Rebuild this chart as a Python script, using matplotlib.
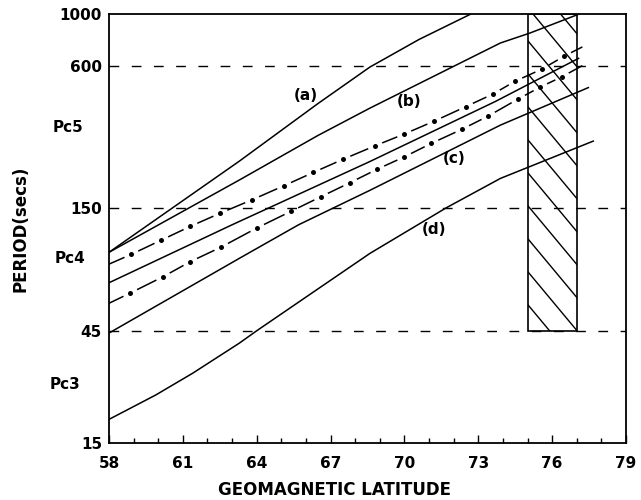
"""
Pc3-Pc5 pulsation period against geomagnetic latitude
"""

import numpy as np
import matplotlib
matplotlib.use('Agg')
import matplotlib.pyplot as plt
from matplotlib.patches import Rectangle
from matplotlib.ticker import MultipleLocator, NullLocator
import matplotlib.transforms as mtransforms

# curve (a)
lat_a = [58, 63.3, 66.5, 68.6, 70.6, 72.7]
per_a = [97, 237, 417, 595, 780, 1000]

# curve (b)
lat_b = [58, 63.3, 66.5, 68.6, 73.9, 75.1, 77.1]
per_b = [97, 197, 305, 398, 753, 830, 1000]

# solid curve between the two dash-dot curves
lat_mid = [58, 63.0, 68.6, 73.7, 77.1]
per_mid = [72, 127, 236, 425, 650]

# curve (c)
lat_c = [58, 63.3, 65.7, 68.6, 73.9, 77.5]
per_c = [44, 91.5, 127, 178, 337, 488]

# curve (d)
lat_d = [58, 59.9, 61.4, 63.3, 64.0, 68.6, 71.7, 73.9, 77.7]
per_d = [18.9, 24, 29.7, 39.9, 45, 96, 150, 200, 289]

# upper dash-dot curve: line ends and dot positions
lat_up_ends = [58, 77.2]
per_up_ends = [86.4, 722]
lat_up_dots = [58.9, 60.1, 61.3, 62.5, 63.8, 65.1, 66.3, 67.5,
               68.8, 70.0, 71.2, 72.5, 73.6, 74.5, 75.6, 76.5]
per_up_dots = [95, 109, 125, 142, 162, 186, 212, 241,
               275, 309, 350, 404, 457, 518, 584, 663]

# lower dash-dot curve: line ends and dot positions
lat_lo_ends = [58, 77.2]
per_lo_ends = [58.9, 601]
lat_lo_dots = [58.85, 60.2, 61.3, 62.55, 64.0, 65.4, 66.6, 67.8,
               68.9, 70.0, 71.1, 72.35, 73.4, 74.6, 75.5, 76.4]
per_lo_dots = [65.0, 76.4, 88.5, 102, 123, 145, 167, 192,
               219, 247, 282, 324, 368, 434, 488, 541]

# band limits and shaded (hatched) latitude range
band_periods = [600, 150, 45]
hatch_lat = (75, 77)
hatch_per = (45, 1000)

y_ticks = [15, 45, 150, 600, 1000]
x_ticks = [58, 61, 64, 67, 70, 73, 76, 79]

curve_labels = ['(a)', '(b)', '(c)', '(d)']
label_lat = [66.0, 70.2, 72.0, 71.2]
label_per = [452, 424, 242, 121]

band_names = ['Pc5', 'Pc4', 'Pc3']
band_name_per = [328, 91, 26.7]

plt.rcParams['font.family'] = 'DejaVu Sans'
plt.rcParams['font.weight'] = 'bold'

fig = plt.figure(figsize=(6.41, 5.0), dpi=100)
ax = fig.add_axes([0.170, 0.114, 0.8066, 0.858])

ax.set_yscale('log')
ax.set_xlim(58, 79)
ax.set_ylim(15, 1000)

# solid curves
for lat, per in [(lat_a, per_a), (lat_b, per_b), (lat_mid, per_mid),
                 (lat_c, per_c), (lat_d, per_d)]:
    ax.plot(lat, per, color='black', lw=1.1, zorder=3, solid_capstyle='butt')

# dash-dot curves: a solid line, blanked round each dot
for ends_x, ends_y, dots_x, dots_y in [
        (lat_up_ends, per_up_ends, lat_up_dots, per_up_dots),
        (lat_lo_ends, per_lo_ends, lat_lo_dots, per_lo_dots)]:
    xs = [ends_x[0]] + dots_x + [ends_x[1]]
    ys = [ends_y[0]] + dots_y + [ends_y[1]]
    ax.plot(xs, ys, color='black', lw=1.1, zorder=2)
    ax.plot(dots_x, dots_y, 'o', color='white', ms=11, mew=0, zorder=2.1)
    ax.plot(dots_x, dots_y, 'o', color='black', ms=3.6, mew=0, zorder=2.2)

# band boundaries
for p in band_periods:
    ax.axhline(p, color='black', lw=1.0, dashes=(7, 9), zorder=3)

# hatched latitude range
rect = Rectangle((hatch_lat[0], hatch_per[0]), hatch_lat[1] - hatch_lat[0],
                 hatch_per[1] - hatch_per[0], fill=False, edgecolor='black',
                 lw=1.2, zorder=4)
ax.add_patch(rect)
clip = Rectangle((hatch_lat[0], hatch_per[0]), hatch_lat[1] - hatch_lat[0],
                 hatch_per[1] - hatch_per[0], transform=ax.transData)
x0 = (hatch_lat[0] - 58) / 21.0
x1 = (hatch_lat[1] - 58) / 21.0
slope = -1.446  # in axes units
for k in range(-3, 16):
    y0 = 0.3233 + k * 0.0769
    ln, = ax.plot([x0 - 0.01, x1 + 0.01],
                  [y0 + 0.01 * -slope, y0 + slope * (x1 - x0 + 0.01)],
                  transform=ax.transAxes, color='black', lw=1.0, zorder=3.5)
    ln.set_clip_path(clip)

# curve labels
for txt, lx, ly in zip(curve_labels, label_lat, label_per):
    ax.text(lx, ly, txt, ha='center', va='center', fontsize=11,
            fontweight='bold', zorder=5)

# band names on the left
trans = mtransforms.blended_transform_factory(ax.transAxes, ax.transData)
for txt, xa, ly in zip(band_names, [-0.080, -0.075, -0.086], band_name_per):
    ax.text(xa, ly, txt, transform=trans, ha='center', va='center',
            fontsize=11, fontweight='bold')

# ticks
ax.set_xticks(x_ticks)
ax.set_xticklabels([str(t) for t in x_ticks])
ax.xaxis.set_minor_locator(MultipleLocator(1))
ax.tick_params(axis='x', which='major', direction='in', length=6, width=1,
               pad=9, labelsize=11)
ax.tick_params(axis='x', which='minor', direction='in', length=3.5, width=1)
ax.set_yticks(y_ticks)
ax.set_yticklabels([str(t) for t in y_ticks])
ax.yaxis.set_minor_locator(NullLocator())
ax.tick_params(axis='y', which='major', length=0, pad=5, labelsize=11)
for lab in ax.get_xticklabels() + ax.get_yticklabels():
    lab.set_fontweight('bold')

for sp in ax.spines.values():
    sp.set_linewidth(1.3)

ax.set_xlabel('GEOMAGNETIC LATITUDE', fontsize=12, fontweight='bold')
ax.xaxis.set_label_coords(0.437, -0.088)
ax.xaxis.label.set_va('top')
ax.set_ylabel('PERIOD(secs)', fontsize=12, fontweight='bold')
ax.yaxis.set_label_coords(-0.153, 0.5)

fig.savefig('out.png', dpi=100)
